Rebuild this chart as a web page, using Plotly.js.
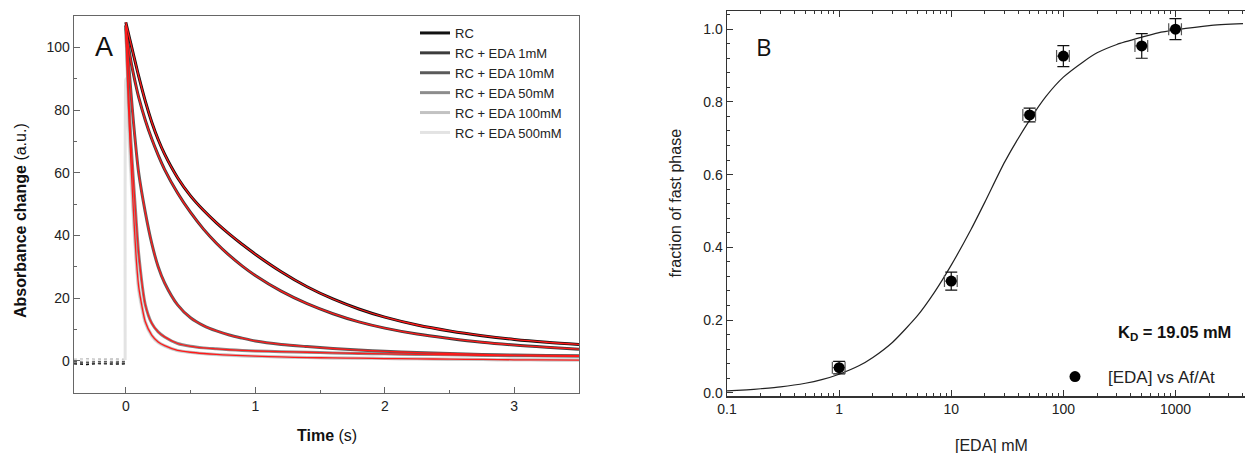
<!DOCTYPE html>
<html>
<head>
<meta charset="utf-8">
<script src="https://cdn.plot.ly/plotly-3.0.1.min.js"></script>
<style>html,body{margin:0;padding:0;background:#fff}#chart{width:1245px;height:453px}</style>
</head>
<body>
<div id="chart"></div>
<script>
// ---------- Panel A: absorbance transients ----------
const seriesNames = ['RC', 'RC + EDA 1mM', 'RC + EDA 10mM', 'RC + EDA 50mM', 'RC + EDA 100mM', 'RC + EDA 500mM'];
const preTime = [-0.4, -0.3, -0.2, -0.1, -0.005];
const decayTime = [0, 0.02, 0.04, 0.06, 0.08, 0.1, 0.15, 0.2, 0.25, 0.3, 0.4, 0.5, 0.6, 0.7, 0.8, 0.9, 1.0,
                   1.2, 1.4, 1.6, 1.8, 2.0, 2.25, 2.5, 2.75, 3.0, 3.25, 3.5];
const baseRC    = [-1.0, -1.2, -0.8, -1.1, -1.0];
const baseEDA1  = [-0.8, -0.6, -1.0, -0.7, -0.8];
const baseEDA10 = [-0.3, -0.5, -0.2, -0.4, -0.3];
const baseEDA50 = [0.3, 0.5, 0.2, 0.4, 0.3];
const baseEDA100 = [0.5, 0.4, 0.6, 0.5, 0.5];
const baseEDA500 = [0.2, 0.3, 0.1, 0.2, 0.2];
const decayRC    = [108, 104.5, 101, 97.5, 94.1, 90.7, 82.9, 76.2, 70.6, 65.9, 58.4, 52.6, 48.0, 44.0, 40.4, 37.1, 34.0,
                    28.4, 23.6, 19.7, 16.5, 13.9, 11.4, 9.5, 8.0, 6.8, 5.9, 5.2];
const decayEDA1  = [107, 100.5, 95.5, 91.3, 87.5, 84.0, 76.8, 70.8, 65.6, 61.0, 53.5, 47.3, 42.0, 37.5, 33.6, 30.2, 27.2,
                    22.2, 18.2, 15.0, 12.4, 10.4, 8.5, 7.1, 5.9, 5.0, 4.3, 3.7];
const decayEDA10 = [107, 96, 85.5, 75.8, 67.2, 59.8, 47.5, 37.5, 30, 24.8, 17.8, 13.7, 11.2, 9.5, 8.2, 7.2, 6.3,
                    5.2, 4.5, 3.9, 3.4, 3.0, 2.6, 2.3, 2.0, 1.8, 1.7, 1.6];
const decayEDA50 = [106, 87, 70, 57, 45, 34, 18, 12, 9.2, 7.6, 5.5, 4.6, 4.1, 3.8, 3.5, 3.3, 3.1,
                    2.9, 2.7, 2.5, 2.3, 2.2, 2.0, 1.9, 1.7, 1.6, 1.5, 1.4];
const decayEDA100 = [106, 82, 63, 47, 33, 23.5, 12.5, 8.2, 6.0, 4.8, 3.3, 2.7, 2.3, 2.0, 1.8, 1.6, 1.45,
                     1.2, 1.0, 0.9, 0.8, 0.7, 0.6, 0.5, 0.4, 0.3, 0.25, 0.2];
const decayEDA500 = [90, 74, 58, 44, 31, 22, 12, 7.8, 5.7, 4.6, 3.2, 2.6, 2.2, 1.9, 1.7, 1.5, 1.4,
                     1.2, 1.0, 0.9, 0.8, 0.7, 0.6, 0.5, 0.4, 0.3, 0.25, 0.2];

// ---------- Panel B: fraction of fast phase ----------
const concEDA = [1, 10, 50, 100, 500, 1000];
const fracFast = [0.069, 0.307, 0.764, 0.926, 0.954, 1.0];
const fracErr = [0.017, 0.025, 0.019, 0.029, 0.034, 0.029];
const fitConc = [0.1, 0.15, 0.2, 0.3, 0.5, 0.7, 1, 1.5, 2, 3, 5, 7, 10, 15, 20, 30, 50, 70, 100, 150, 200, 300, 500, 700, 1000, 2000, 4000];
const fitFrac = [0.005, 0.008, 0.011, 0.016, 0.026, 0.036, 0.051, 0.074, 0.097, 0.139, 0.212, 0.274, 0.351, 0.449, 0.525, 0.635, 0.75, 0.815, 0.868, 0.91, 0.935, 0.958, 0.978, 0.99, 0.998, 1.01, 1.015];
const xTicksA = [0, 1, 2, 3];
const yTicksA = [0, 20, 40, 60, 80, 100];

const baselines = [baseRC, baseEDA1, baseEDA10, baseEDA50, baseEDA100, baseEDA500];
const decays = [decayRC, decayEDA1, decayEDA10, decayEDA50, decayEDA100, decayEDA500];
const colors = ['#111111', '#3c3c3c', '#5a5a5a', '#8c8c8c', '#c2c2c2', '#e3e3e3'];
const risesVisible = [false, false, false, false, false, true];
const smooth = [1, 1, 0.8, 0.6, 0.6, 0.6];
const FONT = 'Liberation Sans, Arial, sans-serif';

const traces = [];
// pre-trigger baselines
baselines.forEach((b, i) => {
  traces.push({x: preTime, y: b, xaxis: 'x', yaxis: 'y', mode: 'lines', showlegend: false,
    line: {color: colors[i], width: 1.4, dash: 'dot'}, hoverinfo: 'skip'});
});
// data traces (lightest first so dark ones stay on top)
for (let i = decays.length - 1; i >= 0; i--) {
  const xs = risesVisible[i] ? [preTime[preTime.length - 1]].concat(decayTime) : decayTime;
  const ys = risesVisible[i] ? [baselines[i][baselines[i].length - 1]].concat(decays[i]) : decays[i];
  traces.push({x: xs, y: ys, xaxis: 'x', yaxis: 'y', mode: 'lines', name: seriesNames[i],
    legend: 'legend', legendrank: i + 1,
    line: {color: colors[i], width: 3, shape: 'spline', smoothing: smooth[i]}});
}
// red fits
for (let i = 0; i < 5; i++) {
  traces.push({x: decayTime, y: decays[i], xaxis: 'x', yaxis: 'y', mode: 'lines', showlegend: false,
    line: {color: '#ff1a1a', width: 1.3, shape: 'spline', smoothing: smooth[i]}, hoverinfo: 'skip'});
}
// Panel B fit
traces.push({x: fitConc, y: fitFrac, xaxis: 'x2', yaxis: 'y2', mode: 'lines', showlegend: false,
  line: {color: '#222', width: 1.2, shape: 'spline', smoothing: 0.6}});
// Panel B points
traces.push({x: concEDA, y: fracFast, xaxis: 'x2', yaxis: 'y2', mode: 'markers', name: '[EDA] vs Af/At',
  legend: 'legend2',
  marker: {color: '#000', size: 11, symbol: 'circle'},
  error_y: {type: 'data', array: fracErr, visible: true, color: '#111', thickness: 1.2, width: 6},
  error_x: {type: 'percent', value: 13, visible: true, color: '#555', thickness: 1.2, width: 6}});

const layout = {
  width: 1245, height: 453,
  margin: {l: 0, r: 0, t: 0, b: 0},
  paper_bgcolor: '#fff', plot_bgcolor: '#fff',
  font: {family: FONT, color: '#222', size: 14},
  showlegend: true,
  xaxis: {domain: [74 / 1245, 579 / 1245], range: [-0.4, 3.5], anchor: 'y',
    tickmode: 'array', tickvals: xTicksA, ticks: 'inside', ticklen: 6, tickcolor: '#666',
    minor: {ticks: 'inside', ticklen: 3, dtick: 0.5, tick0: 0, tickcolor: '#666'},
    showline: true, linecolor: '#666', linewidth: 1.3, mirror: true, showgrid: false, zeroline: false,
    tickfont: {size: 14, color: '#222'}},
  yaxis: {domain: [60 / 453, 437 / 453], range: [-10.3, 110], anchor: 'x',
    tickmode: 'array', tickvals: yTicksA, ticks: 'inside', ticklen: 6, tickcolor: '#666',
    minor: {ticks: 'inside', ticklen: 3, dtick: 10, tick0: 0, tickcolor: '#666'},
    showline: true, linecolor: '#666', linewidth: 1.3, mirror: true, showgrid: false, zeroline: false,
    tickfont: {size: 14, color: '#222'}},
  xaxis2: {domain: [727 / 1245, 1], type: 'log', range: [-1, 3.62], anchor: 'y2',
    dtick: 1, exponentformat: 'none', ticks: 'inside', ticklen: 6, tickcolor: '#333',
    minor: {ticks: 'inside', ticklen: 3, dtick: 'D1', tickcolor: '#333'},
    showline: true, linecolor: '#333', linewidth: 1.5, mirror: 'ticks', showgrid: false, zeroline: false,
    tickfont: {size: 14, color: '#222'}},
  yaxis2: {domain: [57 / 453, 442 / 453], range: [-0.009, 1.05], anchor: 'x2',
    dtick: 0.2, tick0: 0, tickformat: '.1f', ticks: 'inside', ticklen: 6, tickcolor: '#333',
    minor: {ticks: 'inside', ticklen: 3, dtick: 0.04, tick0: 0, tickcolor: '#333'},
    showline: true, linecolor: '#333', linewidth: 1.5, mirror: false, showgrid: false, zeroline: false,
    tickfont: {size: 14, color: '#222'}},
  legend: {x: 415 / 1245, xanchor: 'left', y: (453 - 18) / 453, yanchor: 'top',
    bgcolor: 'rgba(0,0,0,0)', borderwidth: 0, font: {size: 13, color: '#222'}, traceorder: 'normal'},
  legend2: {x: 1042 / 1245, xanchor: 'left', y: (453 - 359) / 453, yanchor: 'top', itemwidth: 56,
    bgcolor: 'rgba(0,0,0,0)', borderwidth: 0, font: {size: 17, color: '#222'}},
  annotations: [
    {text: 'A', xref: 'paper', yref: 'paper', x: 104 / 1245, y: (453 - 47) / 453, showarrow: false,
      xanchor: 'center', yanchor: 'middle', font: {size: 27, color: '#111'}},
    {text: 'B', xref: 'paper', yref: 'paper', x: 764 / 1245, y: (453 - 47) / 453, showarrow: false,
      xanchor: 'center', yanchor: 'middle', font: {size: 24, color: '#111', family: 'Open Sans, sans-serif'}},
    {text: '<b>Absorbance change</b> (a.u.)', xref: 'paper', yref: 'paper', x: 20 / 1245, y: (453 - 221) / 453,
      textangle: -90, showarrow: false, xanchor: 'center', yanchor: 'middle', font: {size: 16, color: '#111'}},
    {text: '<b>Time</b> (s)', xref: 'paper', yref: 'paper', x: 326.5 / 1245, y: (453 - 435) / 453,
      showarrow: false, xanchor: 'center', yanchor: 'middle', font: {size: 16, color: '#111'}},
    {text: 'fraction of fast phase', xref: 'paper', yref: 'paper', x: 675 / 1245, y: (453 - 203.5) / 453,
      textangle: -90, showarrow: false, xanchor: 'center', yanchor: 'middle', font: {size: 16, color: '#222'}},
    {text: '[EDA] mM', xref: 'paper', yref: 'paper', x: 991.7 / 1245, y: (453 - 445) / 453,
      showarrow: false, xanchor: 'center', yanchor: 'middle', font: {size: 16, color: '#222'}},
    {text: '<b>K<sub>D</sub> = 19.05 mM</b>', xref: 'paper', yref: 'paper', x: 1233 / 1245, y: (453 - 333) / 453,
      showarrow: false, xanchor: 'right', yanchor: 'middle', font: {size: 16.5, color: '#111'}}
  ]
};

Plotly.newPlot('chart', traces, layout, {staticPlot: true, displayModeBar: false});
</script>
</body>
</html>
